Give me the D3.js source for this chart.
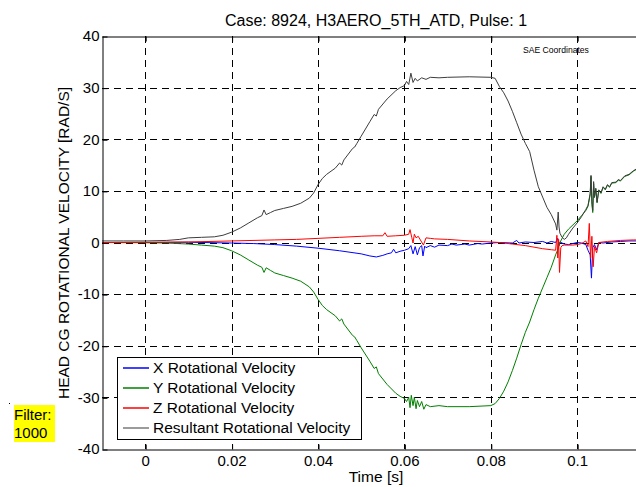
<!DOCTYPE html>
<html>
<head>
<meta charset="utf-8">
<script src="https://cdn.jsdelivr.net/npm/d3@7"></script>
<style>
  body { margin: 0; background: #fff; }
  svg { display: block; }
  text { font-family: "Liberation Sans", Arial, Helvetica, sans-serif; fill: #000; }
</style>
</head>
<body>
<svg id="chart" width="636" height="487"></svg>
<script>
// ---- data ---------------------------------------------------------------
const titleText = "Case: 8924, H3AERO_5TH_ATD, Pulse: 1";
const xLabelText = "Time [s]";
const yLabelText = "HEAD CG ROTATIONAL VELOCITY [RAD/S]";
const noteText = "SAE Coordinates";
const filterLines = ["Filter:", "1000"];

const xTicks = [0, 0.02, 0.04, 0.06, 0.08, 0.1];
const xTickLabels = ["0", "0.02", "0.04", "0.06", "0.08", "0.1"];
const yTicks = [-40, -30, -20, -10, 0, 10, 20, 30, 40];
const yTickLabels = ["-40", "-30", "-20", "-10", "0", "10", "20", "30", "40"];

const seriesNames = ["X Rotational Velocity", "Y Rotational Velocity",
                     "Z Rotational Velocity", "Resultant Rotational Velocity"];
const seriesColors = ["#0000ff", "#008000", "#ff0000", "#3d3d3d"];

// [time (s), angular velocity (rad/s)]
const xVel = [[-0.01,0],[0,0],[0.01,0.05],[0.02,-0.1],[0.025,-0.2],[0.03,-0.4],[0.035,-0.7],
  [0.04,-1.1],[0.045,-1.6],[0.05,-2.2],[0.052,-2.6],[0.0535,-2.8],[0.055,-2.5],[0.056,-2.2],
  [0.057,-2.0],[0.0575,-1.3],[0.058,-2.0],[0.059,-1.7],[0.06,-1.5],[0.061,-1.2],[0.0615,-0.6],
  [0.062,-2.2],[0.0625,-0.8],[0.063,-2.4],[0.0635,-1.0],[0.064,-0.6],[0.0643,-2.6],[0.0647,-0.7],
  [0.065,-1.0],[0.066,-0.6],[0.067,-0.9],[0.068,-0.5],[0.07,-0.6],[0.071,-0.3],[0.072,-0.5],
  [0.074,-0.3],[0.075,-0.5],[0.077,-0.2],[0.078,-0.3],[0.08,-0.1],[0.082,0.0],[0.085,-0.1],
  [0.086,0.4],[0.0865,-0.1],[0.088,0.1],[0.09,0.0],[0.092,0.2],[0.093,-0.1],[0.094,0.2],
  [0.095,0.0],[0.0955,0.8],[0.0958,-0.6],[0.096,0.1],[0.097,-0.3],[0.098,-0.4],[0.1,0.0],
  [0.101,-0.1],[0.102,-0.4],[0.1025,-1.5],[0.103,-2.4],[0.1033,-6.9],[0.1036,-1.0],[0.104,-0.4],
  [0.1045,-1.4],[0.105,0.0],[0.106,-0.1],[0.108,0.1],[0.11,0.2],[0.112,0.3],[0.114,0.3],[0.117,0.3]];

const yVel = [[-0.01,0],[0,-0.05],[0.005,-0.1],[0.01,-0.3],[0.013,-0.5],[0.016,-0.7],[0.018,-1.0],
  [0.02,-1.6],[0.022,-2.4],[0.024,-3.4],[0.026,-4.4],[0.027,-4.8],[0.0275,-5.8],[0.028,-4.9],
  [0.029,-5.4],[0.03,-5.9],[0.032,-6.4],[0.034,-6.9],[0.036,-7.5],[0.038,-8.6],[0.039,-9.6],
  [0.04,-11.0],[0.041,-12.2],[0.042,-13.0],[0.044,-14.2],[0.045,-15.2],[0.0455,-14.8],
  [0.046,-15.8],[0.048,-18.0],[0.0485,-18.3],[0.049,-19.0],[0.05,-20.4],[0.052,-23.0],
  [0.053,-24.4],[0.0535,-24.1],[0.054,-25.4],[0.056,-27.5],[0.058,-29.2],[0.059,-29.8],
  [0.06,-30.2],[0.0605,-30.8],[0.061,-30.0],[0.0613,-32.0],[0.0616,-29.6],[0.062,-31.6],
  [0.0623,-30.0],[0.0627,-32.2],[0.063,-30.6],[0.0635,-31.8],[0.064,-30.8],[0.0645,-32.3],
  [0.065,-31.4],[0.066,-31.8],[0.068,-31.6],[0.07,-31.8],[0.075,-31.8],[0.08,-31.6],[0.081,-31.2],
  [0.082,-30.2],[0.083,-28.8],[0.084,-27.0],[0.085,-24.8],[0.086,-22.4],[0.087,-19.8],[0.088,-17.4],
  [0.089,-15.4],[0.09,-13.0],[0.091,-10.8],[0.092,-8.8],[0.093,-6.8],[0.094,-4.8],[0.095,-2.4],
  [0.0955,-1.4],[0.096,0.0],[0.097,1.6],[0.098,2.6],[0.1,4.2],[0.101,5.2],[0.102,6.2],[0.1025,7.0],
  [0.103,9.2],[0.1032,12.8],[0.1034,7.4],[0.1036,5.8],[0.1038,11.4],[0.104,8.7],[0.1043,10.4],
  [0.1046,7.7],[0.105,10.1],[0.1055,9.5],[0.106,10.7],[0.1065,10.2],[0.107,11.1],[0.1075,10.7],
  [0.108,11.5],[0.109,11.6],[0.1095,12.1],[0.11,11.9],[0.111,12.8],[0.112,13.1],[0.113,13.8],
  [0.114,14.3],[0.115,14.8],[0.117,15.5]];

const zVel = [[-0.01,0],[0,0.05],[0.01,0.1],[0.02,0.3],[0.03,0.5],[0.035,0.6],[0.04,0.8],
  [0.045,1.0],[0.05,1.2],[0.053,1.3],[0.055,1.3],[0.0555,1.9],[0.056,1.2],[0.058,1.3],[0.06,1.4],
  [0.061,1.6],[0.0613,2.5],[0.0617,1.0],[0.062,-0.1],[0.0623,1.6],[0.0627,0.9],[0.0632,1.2],
  [0.0644,-0.5],[0.065,0.9],[0.066,0.8],[0.067,0.7],[0.07,0.6],[0.075,0.3],[0.08,0.1],[0.082,0.0],
  [0.085,-0.3],[0.088,-0.6],[0.09,-0.9],[0.092,-1.2],[0.094,-1.4],[0.095,-1.5],[0.0953,1.4],
  [0.0955,-3.0],[0.0957,0.6],[0.0959,-5.8],[0.0962,-1.0],[0.0965,-0.6],[0.097,-0.5],[0.099,-0.5],
  [0.1,-0.4],[0.101,-0.2],[0.102,0.3],[0.1025,-0.8],[0.1028,3.7],[0.1031,-3.0],[0.1034,1.2],
  [0.1037,-4.7],[0.104,-0.8],[0.1045,-2.0],[0.105,0.0],[0.107,0.2],[0.11,0.4],[0.113,0.5],[0.117,0.5]];

const resVel = [[-0.01,0.3],[-0.005,0.3],[0,0.3],[0.005,0.4],[0.008,0.6],[0.01,0.9],[0.013,1.0],
  [0.016,1.1],[0.018,1.4],[0.02,2.0],[0.022,2.8],[0.024,3.8],[0.026,4.8],[0.027,5.2],[0.0275,6.3],
  [0.028,5.4],[0.029,5.8],[0.03,6.2],[0.032,6.6],[0.034,7.0],[0.036,7.6],[0.038,8.6],[0.039,9.6],
  [0.04,11.2],[0.041,12.4],[0.042,13.2],[0.044,14.4],[0.045,15.4],[0.0455,15.0],[0.046,16.0],
  [0.048,18.2],[0.0485,18.5],[0.049,19.2],[0.05,20.6],[0.052,23.4],[0.053,24.8],[0.0535,24.5],
  [0.054,25.8],[0.056,27.8],[0.058,29.4],[0.059,30.0],[0.06,30.4],[0.0605,31.2],[0.061,30.6],
  [0.0615,32.8],[0.062,31.0],[0.0625,31.8],[0.063,31.3],[0.064,31.9],[0.065,31.6],[0.066,32.0],
  [0.068,31.9],[0.07,32.0],[0.075,32.1],[0.08,32.0],[0.081,31.8],[0.082,30.2],[0.083,29.0],
  [0.084,27.4],[0.085,25.4],[0.086,23.2],[0.087,21.0],[0.088,19.2],[0.089,17.6],[0.09,14.0],
  [0.091,10.8],[0.092,8.8],[0.093,6.8],[0.094,5.4],[0.095,3.6],[0.0953,2.4],[0.0956,5.9],
  [0.0958,3.0],[0.096,1.8],[0.0965,1.0],[0.097,0.6],[0.0975,0.9],[0.098,1.6],[0.099,2.8],[0.1,3.8],
  [0.101,5.0],[0.102,6.4],[0.1025,7.2],[0.103,9.5],[0.1032,13.0],[0.1034,8.0],[0.1036,6.2],
  [0.1038,11.8],[0.104,8.8],[0.1043,10.5],[0.1046,7.8],[0.105,10.2],[0.1055,9.6],[0.106,10.8],
  [0.1065,10.3],[0.107,11.2],[0.1075,10.8],[0.108,11.6],[0.109,11.7],[0.1095,12.2],[0.11,12.0],
  [0.111,12.9],[0.112,13.2],[0.113,13.9],[0.114,14.4],[0.115,14.9],[0.117,15.6]];

const seriesData = [xVel, yVel, zVel, resVel];

// ---- layout -------------------------------------------------------------
const svg = d3.select("#chart");
const W = 636, H = 487;
const plot = { left: 102, top: 36, bottom: 449, right: 663.6 };

const x = d3.scaleLinear().domain([-0.01, 0.12]).range([plot.left, plot.right]);
const y = d3.scaleLinear().domain([-40, 40]).range([plot.bottom, plot.top]);

svg.append("rect").attr("width", W).attr("height", H).attr("fill", "#fff");

svg.append("defs").append("clipPath").attr("id", "plotClip")
  .append("rect")
  .attr("x", plot.left).attr("y", plot.top)
  .attr("width", plot.right - plot.left).attr("height", plot.bottom - plot.top);

// dashed grid
const grid = svg.append("g").attr("stroke", "#000").attr("stroke-width", 1)
  .attr("stroke-dasharray", "7,5").attr("fill", "none");
grid.selectAll("line.gx").data(xTicks).join("line").attr("class", "gx")
  .attr("x1", d => Math.round(x(d)) + 0.5).attr("x2", d => Math.round(x(d)) + 0.5)
  .attr("y1", plot.top).attr("y2", plot.bottom);
grid.selectAll("line.gy").data(yTicks.filter(d => d > -40 && d < 40)).join("line").attr("class", "gy")
  .attr("y1", d => Math.round(y(d)) + 0.5).attr("y2", d => Math.round(y(d)) + 0.5)
  .attr("x1", plot.left).attr("x2", plot.right);

// series
const line = d3.line().x(d => x(d[0])).y(d => y(d[1]));
const lines = svg.append("g").attr("clip-path", "url(#plotClip)");
seriesData.forEach((s, i) => {
  lines.append("path").datum(s)
    .attr("d", line)
    .attr("fill", "none")
    .attr("stroke", seriesColors[i])
    .attr("stroke-width", 1)
    .attr("stroke-linejoin", "round");
});

// axes
const fontSize = 15;
const xAxis = d3.axisBottom(x).tickValues(xTicks)
  .tickFormat((d, i) => xTickLabels[i]).tickSizeInner(-5).tickSizeOuter(0).tickPadding(6);
const gx = svg.append("g").attr("transform", `translate(0,${plot.bottom + 0.5})`).call(xAxis);

const xTop = d3.axisTop(x).tickValues(xTicks).tickFormat("").tickSizeInner(-5).tickSizeOuter(0);
const gxt = svg.append("g").attr("transform", `translate(0,${plot.top + 0.5})`).call(xTop);

const yAxis = d3.axisLeft(y).tickValues(yTicks)
  .tickFormat((d, i) => yTickLabels[i]).tickSizeInner(-5).tickSizeOuter(0).tickPadding(3);
const gy = svg.append("g").attr("transform", `translate(${plot.left + 0.5},0)`).call(yAxis);

[gx, gxt, gy].forEach(g => {
  g.select(".domain").attr("stroke", "#000").attr("stroke-width", 1);
  g.selectAll(".tick line").attr("stroke", "#000");
  g.selectAll(".tick text").attr("font-size", fontSize)
    .attr("font-family", "\"Liberation Sans\", Arial, sans-serif").attr("fill", "#000");
});
gy.selectAll(".tick line").attr("transform", "translate(0,0.5)");
gx.selectAll(".tick line").attr("transform", "translate(0.5,0)");
gxt.selectAll(".tick line").attr("transform", "translate(0.5,0)");

// titles
svg.append("text").attr("x", 376).attr("y", 26).attr("text-anchor", "middle")
  .attr("font-size", 16).text(titleText);
svg.append("text").attr("x", 376).attr("y", 482).attr("text-anchor", "middle")
  .attr("font-size", 15.5).text(xLabelText);
svg.append("text")
  .attr("transform", "translate(69,243) rotate(-90)")
  .attr("text-anchor", "middle").attr("font-size", 15.5).text(yLabelText);

// note in upper right
svg.append("text").attr("x", 523).attr("y", 53).attr("font-size", 8.6).text(noteText);

// legend
const legend = svg.append("g");
legend.append("rect").attr("x", 117.5).attr("y", 357.5).attr("width", 244).attr("height", 82)
  .attr("fill", "#fff").attr("stroke", "#000").attr("stroke-width", 1);
seriesNames.forEach((name, i) => {
  const ly = 368 + i * 20;
  legend.append("line").attr("x1", 123).attr("x2", 149).attr("y1", ly).attr("y2", ly)
    .attr("stroke", i === 3 ? "#7a7a7a" : seriesColors[i]).attr("stroke-width", 1.5);
  legend.append("text").attr("x", 153).attr("y", ly).attr("dy", "0.35em")
    .attr("font-size", 15.5).text(name);
});

// filter annotation
svg.append("rect").attr("x", 14).attr("y", 405).attr("width", 41).attr("height", 37).attr("fill", "#ffff00");
filterLines.forEach((t, i) => {
  svg.append("text").attr("x", 14).attr("y", 420 + i * 18).attr("font-size", 15).text(t);
});
svg.append("rect").attr("x", 9).attr("y", 403).attr("width", 1).attr("height", 1).attr("fill", "#000");
</script>
</body>
</html>
